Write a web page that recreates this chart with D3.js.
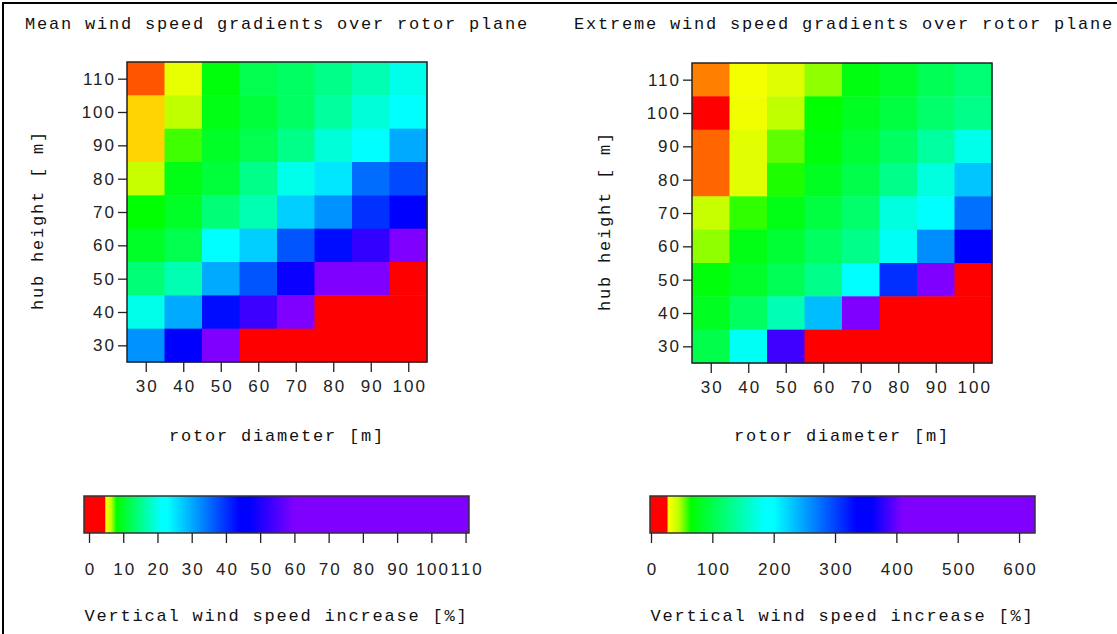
<!DOCTYPE html>
<html>
<head>
<meta charset="utf-8">
<script src="https://cdn.jsdelivr.net/npm/d3@7"></script>
<style>
  html, body { margin: 0; padding: 0; background: #fff; }
  svg { display: block; }
</style>
</head>
<body>
<svg id="chart" width="1117" height="634"></svg>
<script>
// ---------- data ----------
const rotorDiameters = [30, 40, 50, 60, 70, 80, 90, 100];
const hubHeights = [110, 100, 90, 80, 70, 60, 50, 40, 30];

// Mean vertical wind speed increase [%] (rows: hub height 110 .. 30; null = rotor reaches ground)
const meanValues = [
  [4.7, 5.5, 8.5, 12, 13, 15, 17, 20],
  [4.85, 6.5, 9, 11, 13, 16, 19, 22],
  [4.85, 7.5, 10, 12, 15, 19, 22, 30],
  [6.3, 9, 11, 15, 20, 25, 35, 38],
  [8, 10, 14, 17, 27, 32, 40, 46],
  [10, 12, 21, 27, 37, 43, 52, 62],
  [14, 17, 30, 37, 48, 62, 62, null],
  [20, 30, 43, 53, 60, null, null, null],
  [32, 46, 60, null, null, null, null, null]
];

// Extreme vertical wind speed increase [%]
const extremeValues = [
  [27, 31, 37, 50, 72, 85, 105, 120],
  [20, 32, 45, 65, 80, 95, 115, 130],
  [26.8, 36, 55, 70, 90, 110, 140, 175],
  [26.8, 36, 62, 80, 100, 130, 170, 230],
  [43, 60, 75, 95, 115, 170, 195, 275],
  [50, 75, 90, 110, 130, 180, 260, 350],
  [70, 85, 105, 130, 195, 310, 420, null],
  [80, 110, 150, 235, 415, null, null, null],
  [100, 180, 385, null, null, null, null, null]
];

const meanTicks = [0, 10, 20, 30, 40, 50, 60, 70, 80, 90, 100, 110];
const extremeTicks = [0, 100, 200, 300, 400, 500, 600];
const meanStops = [0, 4.6, 4.9, 6.5, 8, 21, 23, 44, 47, 60, 111];
const extremeStops = [0, 26, 28, 45, 65, 185, 200, 335, 360, 410, 626];
const stopColors = ["#ff0000", "#ff0000", "#ffff00", "#c0ff00", "#00ff00", "#00ffff", "#00ffff", "#0000ff", "#0000ff", "#8000ff", "#8000ff"];

const titles = ["Mean wind speed gradients over rotor plane", "Extreme wind speed gradients over rotor plane"];

// ---------- drawing ----------
const svg = d3.select("#chart");
const monoFont = "'Liberation Mono', 'DejaVu Sans Mono', monospace";
const sansFont = "'Liberation Sans', Arial, sans-serif";

// window frame lines
svg.append("line").attr("x1", 2).attr("x2", 1117).attr("y1", 3).attr("y2", 3)
  .attr("stroke", "#000").attr("stroke-width", 2);
svg.append("line").attr("x1", 3).attr("x2", 3).attr("y1", 2).attr("y2", 634)
  .attr("stroke", "#000").attr("stroke-width", 2);

const panels = [
  { values: meanValues, stops: meanStops, ticks: meanTicks, title: titles[0],
    titleX: 25, plotX: 127, plotY: 62, ylabX: 39,
    barX: 84, barW: 385, barZero: 89, barMax: 111 },
  { values: extremeValues, stops: extremeStops, ticks: extremeTicks, title: titles[1],
    titleX: 574, plotX: 692, plotY: 63, ylabX: 606,
    barX: 650, barW: 385, barZero: 651, barMax: 626 }
];

function monoText(g, x, y, txt, anchor) {
  return g.append("text").attr("x", x).attr("y", y)
    .attr("font-family", monoFont).attr("font-size", 17)
    .attr("letter-spacing", "1.8px")
    .attr("fill", "#111")
    .attr("text-anchor", anchor || "start")
    .attr("dominant-baseline", "middle")
    .text(txt);
}

function styleTicks(a) {
  a.select(".domain").remove();
  a.selectAll(".tick line").attr("stroke", "#222").attr("stroke-width", 1.3);
  a.selectAll(".tick text").attr("font-family", sansFont).attr("font-size", 17)
    .attr("letter-spacing", "2px").attr("fill", "#222");
}

panels.forEach(p => {
  const g = svg.append("g");
  const size = 300;
  const x = d3.scaleLinear().domain([25, 105]).range([p.plotX, p.plotX + size]);
  const y = d3.scaleLinear().domain([25, 115]).range([p.plotY + size, p.plotY]);
  const color = d3.scaleLinear().domain(p.stops).range(stopColors).clamp(true);

  // title
  monoText(g, p.titleX, 25, p.title);

  // cells
  const cells = [];
  hubHeights.forEach((h, i) => rotorDiameters.forEach((d, j) => cells.push({ h, d, v: p.values[i][j] })));
  g.append("g").selectAll("rect").data(cells).join("rect")
    .attr("x", c => x(c.d - 5))
    .attr("y", c => y(c.h + 5))
    .attr("width", c => x(c.d + 5) - x(c.d - 5) + 0.5)
    .attr("height", c => y(c.h - 5) - y(c.h + 5) + 0.5)
    .attr("fill", c => c.v === null ? "#ff0000" : color(c.v));

  g.append("rect").attr("x", p.plotX).attr("y", p.plotY).attr("width", size).attr("height", size)
    .attr("fill", "none").attr("stroke", "#222").attr("stroke-width", 1.5);

  // axes
  const xAxis = d3.axisBottom(x).tickValues(rotorDiameters).tickSizeOuter(0).tickSize(10).tickPadding(8);
  const gx = g.append("g").attr("transform", `translate(0,${p.plotY + size})`).call(xAxis);
  const yAxis = d3.axisLeft(y).tickValues(hubHeights).tickSizeOuter(0).tickSize(9).tickPadding(4);
  const gy = g.append("g").attr("transform", `translate(${p.plotX},0)`).call(yAxis);
  styleTicks(gx);
  styleTicks(gy);
  gy.selectAll(".tick text").attr("dx", "2px");
  gx.selectAll(".tick text").attr("dx", "1px");

  // axis labels
  monoText(g, p.plotX + size / 2, 437, "rotor diameter [m]", "middle");
  monoText(g, 0, 0, "hub height [ m]", "middle")
    .attr("transform", `translate(${p.ylabX},${p.plotY + size / 2 + 8}) rotate(-90)`);

  // colour bar
  const bx = d3.scaleLinear().domain([0, p.barMax]).range([p.barZero, p.barX + p.barW]);
  const gradId = "grad" + p.barMax;
  const grad = svg.append("defs").append("linearGradient").attr("id", gradId)
    .attr("gradientUnits", "userSpaceOnUse")
    .attr("x1", bx(0)).attr("x2", bx(p.barMax)).attr("y1", 0).attr("y2", 0);
  p.stops.forEach((s, k) => grad.append("stop")
    .attr("offset", s / p.barMax).attr("stop-color", stopColors[k]));
  g.append("rect").attr("x", p.barX).attr("y", 496).attr("width", p.barW).attr("height", 37)
    .attr("fill", `url(#${gradId})`);
  g.append("rect").attr("x", p.barX + 0.5).attr("y", 496).attr("width", Math.min(6, p.barZero - p.barX)).attr("height", 37)
    .attr("fill", "#ff0000");
  g.append("rect").attr("x", p.barX).attr("y", 496).attr("width", p.barW).attr("height", 37)
    .attr("fill", "none").attr("stroke", "#333").attr("stroke-width", 1.5);

  const cAxis = d3.axisBottom(bx).tickValues(p.ticks).tickFormat(d3.format("d"))
    .tickSize(10).tickSizeOuter(0).tickPadding(20);
  const gc = g.append("g").attr("transform", "translate(0,533)").call(cAxis);
  styleTicks(gc);
  gc.selectAll(".tick text").attr("dx", "1px");

  monoText(g, p.barX + p.barW / 2, 617, "Vertical wind speed increase [%]", "middle");
});
</script>
</body>
</html>
